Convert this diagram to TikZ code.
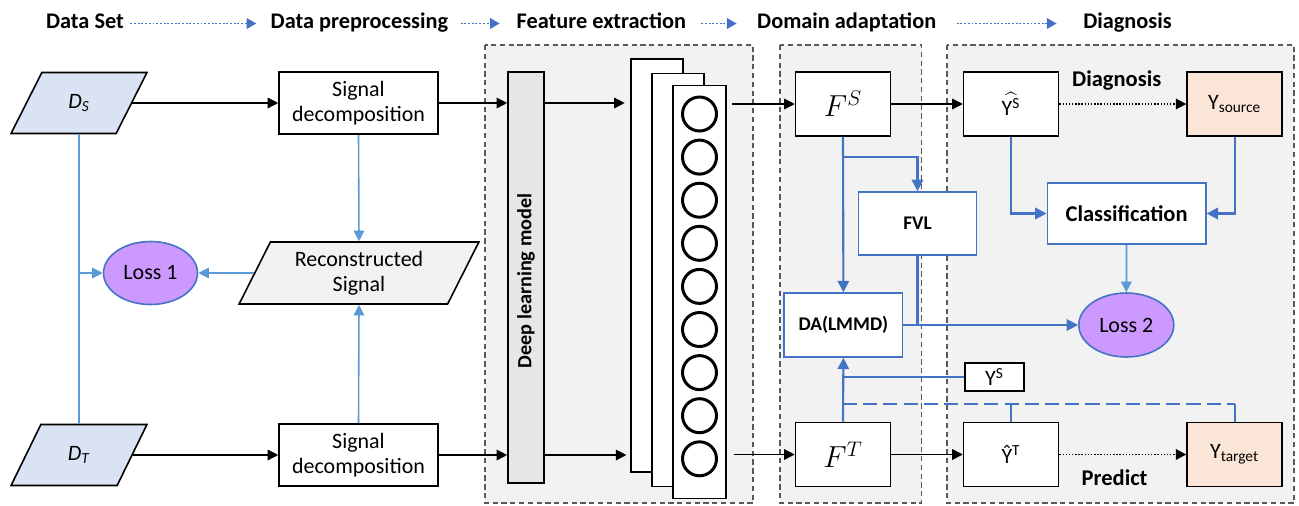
\documentclass[tikz,border=0pt]{standalone}
\usepackage{amsmath}
\usepackage{fontspec}
\setmainfont{Carlito}
\usetikzlibrary{arrows.meta, positioning, shapes.geometric}

\definecolor{panelgray}{HTML}{F2F2F2}
\definecolor{modelgray}{HTML}{E7E6E6}
\definecolor{dsblue}{HTML}{DAE3F3}
\definecolor{lossviolet}{HTML}{CC99FF}
\definecolor{labelpeach}{HTML}{FBE5D6}
\definecolor{lineblue}{HTML}{5B9BD5}
\definecolor{darkblue}{HTML}{4472C4}

\begin{document}
\begin{tikzpicture}[x=0.02cm, y=-0.02cm,
  txt/.style={font=\fontsize{12.5}{14.5}\selectfont},
  box/.style={draw, line width=0.9pt, fill=white, inner sep=0pt, align=center, txt,
    minimum width=1.9cm, minimum height=1.28cm},
  sdbox/.style={box, minimum width=3.18cm, minimum height=1.24cm},
  bluebox/.style={box, draw=darkblue, font=\fontsize{11}{13}\selectfont\bfseries,
    minimum width=2.36cm, minimum height=1.26cm},
  para/.style={draw, line width=0.9pt, trapezium, trapezium left angle=63, trapezium right angle=117,
    trapezium stretches=true, inner sep=0pt, align=center, txt},
  loss/.style={draw=darkblue, line width=0.9pt, ellipse, fill=lossviolet, inner sep=0pt, txt,
    minimum width=1.88cm, minimum height=1.26cm},
  page/.style={draw, line width=0.9pt, fill=white, minimum width=1.05cm, minimum height=8.26cm},
  neuron/.style={draw, circle, line width=1.7pt, minimum size=0.68cm, inner sep=0pt},
  hdr/.style={font=\fontsize{12.7}{15}\selectfont\bfseries, inner sep=0pt, text height=1.6ex, text depth=0.45ex},
  hdrarr/.style={-{Triangle[length=5.5pt, width=6pt]}, darkblue, densely dotted, line width=1.1pt},
  panel/.style={draw=black!65, dash pattern=on 3pt off 2pt, fill=panelgray, line width=0.6pt},
  lbl/.style={font=\fontsize{12.8}{15}\selectfont\bfseries},
  arr/.style={-{Triangle[length=6pt, width=6pt]}, line width=0.8pt},
  barr/.style={-{Triangle[length=6pt, width=6pt]}, lineblue, line width=0.9pt},
  bline/.style={darkblue, line width=1.2pt},
  darr/.style={bline, -{Triangle[length=6.5pt, width=6.5pt]}}]
\useasboundingbox (0,0) rectangle (1299,505);

% stage titles
\node[hdr] (hset) at (85,23.5) {Data Set};
\node[hdr] (hpre) at (359.4,23.5) {Data preprocessing};
\node[hdr] (hfeat) at (601.4,23.5) {Feature extraction};
\node[hdr] (hdom) at (846.7,23.5) {Domain adaptation};
\node[hdr] (hdiag) at (1127.5,23.5) {Diagnosis};
\foreach \a/\b/\s/\e in {hset/hpre/3.5pt/8pt, hpre/hfeat/7pt/9.5pt, hfeat/hdom/8.5pt/11.5pt, hdom/hdiag/11.5pt/15pt}
  \draw[hdrarr, shorten <=\s, shorten >=\e] (\a.east) -- (\b.west);

% dashed panels
\draw[panel] (485,45) rectangle (753,503);
\draw[panel] (780,45) rectangle (921.5,503);
\draw[panel] (947,45) rectangle (1294,503);

% data and preprocessing
\node[para, fill=dsblue, minimum width=2.72cm, minimum height=1.22cm] (ds) at (79,103) {\textit{D}\textsubscript{\textit{S}}};
\node[para, fill=dsblue, minimum width=2.72cm, minimum height=1.22cm] (dt) at (79,455) {\textit{D}\textsubscript{\textit{T}}};
\node[sdbox] (sd1) at (358.5,103) {Signal\\decomposition};
\node[sdbox] (sd2) at (358.5,455) {Signal\\decomposition};
\node[para, fill=panelgray, minimum width=4.8cm, minimum height=1.24cm] (rec) at (359,273) {Reconstructed\\Signal};
\node[loss] (loss1) at (150.5,273) {Loss 1};

% feature extraction
\node[draw, line width=0.9pt, fill=modelgray, minimum width=0.72cm, minimum height=8.22cm] (dl) at (526,277.5) {};
\node[rotate=90, font=\fontsize{11.5}{13}\selectfont\bfseries] (dltxt) at (526,281) {Deep learning model};
\node[page] (pg1) at (657,265.5) {};
\node[page] (pg2) at (678,280) {};
\node[page] (pg3) at (699.5,292) {};
\foreach \i in {0,...,8}
  \node[neuron] (n\i) at (699.5,{114+43.1*\i}) {};

% domain adaptation
\node[box, font=\fontsize{17}{20}\selectfont] (fs) at (843,104) {$F^{S}$};
\node[box, font=\fontsize{17}{20}\selectfont] (ft) at (843,454.5) {$F^{T}$};
\node[bluebox] (fvl) at (917.5,223.4) {FVL};
\node[bluebox, minimum width=2.37cm, minimum height=1.28cm] (da) at (843.4,325) {DA(LMMD)};
\node[draw, line width=0.9pt, fill=white, inner sep=0pt, minimum width=1.18cm, minimum height=0.56cm, txt] (ysm) at (994.5,377) {Y\textsuperscript{S}};

% diagnosis
\node[box, right=1.43cm of fs] (yhs) {\(\widehat{\mbox{Y\textsuperscript{S}}}\)};
\node[box, fill=labelpeach, right=2.54cm of yhs] (ysrc) {Y\textsubscript{source}};
\node[box, right=1.43cm of ft] (yht) {Ŷ\textsuperscript{T}};
\node[box, fill=labelpeach, right=2.54cm of yht] (ytgt) {Y\textsubscript{target}};
\node[bluebox, lbl, minimum width=3.17cm, minimum height=1.23cm] (cls) at (1126.6,213.5) {Classification};
\node[loss, minimum width=1.9cm, minimum height=1.28cm] (loss2) at (1126.3,325) {Loss 2};
\node[lbl] (tdiag) at (1116.7,81) {Diagnosis};
\node[lbl] (tpred) at (1114.6,478) {Predict};

% main flow
\draw[arr] (ds.east) -- (ds.east -| sd1.west);
\draw[arr] (dt.east) -- (dt.east -| sd2.west);
\draw[arr] (sd1.east) -- (sd1.east -| dl.west);
\draw[arr] (sd2.east) -- (sd2.east -| dl.west);
\draw[arr, shorten >=3pt] (dl.east |- sd1.east) -- (pg1.west |- sd1.east);
\draw[arr, shorten >=2pt] (dl.east |- sd2.east) -- (pg1.west |- sd2.east);
\draw[arr, shorten <=3pt] (pg3.east |- fs.west) -- (fs.west);
\draw[arr, shorten <=4pt] (pg3.east |- ft.west) -- (ft.west);
\draw[arr] (fs) -- (yhs);
\draw[arr] (ft) -- (yht);
\draw[arr, densely dotted, line width=1.1pt] (yhs) -- (ysrc);
\draw[arr, densely dotted, line width=1.1pt] (yht) -- (ytgt);

% reconstruction loss
\draw[lineblue, line width=0.9pt] (ds.south) -- (dt.north);
\draw[barr] (ds.south |- loss1.west) -- (loss1.west);
\draw[barr] (rec.west) -- (loss1.east);
\draw[barr] (sd1.south) -- (rec.north);
\draw[barr] (sd2.north) -- (rec.south);

% adaptation loss
\coordinate (br) at (843,157.4);
\draw[darr] (fs.south) -- (da.north);
\draw[darr] (br) -| (fvl.north);
\draw[bline] (fvl.south) -- (fvl.south |- da.east);
\draw[darr] (da.east) -- (loss2.west);
\draw[darr] (ft.north) -- (da.south);
\draw[bline] (ysm.west) -- (ft.north |- ysm.west);
\draw[darr] (yhs.south) |- (cls.west);
\draw[darr] (ysrc.south) |- (cls.east);
\draw[barr, line width=1pt] (cls.south) -- (loss2.north);
\coordinate (pl) at (843,404);
\draw[bline, dash pattern=on 8pt off 3.5pt] (pl) -- (pl -| ytgt.north);
\draw[bline] (yht.north) -- (yht.north |- pl);
\draw[bline] (ytgt.north) -- (ytgt.north |- pl);
\end{tikzpicture}
\end{document}
